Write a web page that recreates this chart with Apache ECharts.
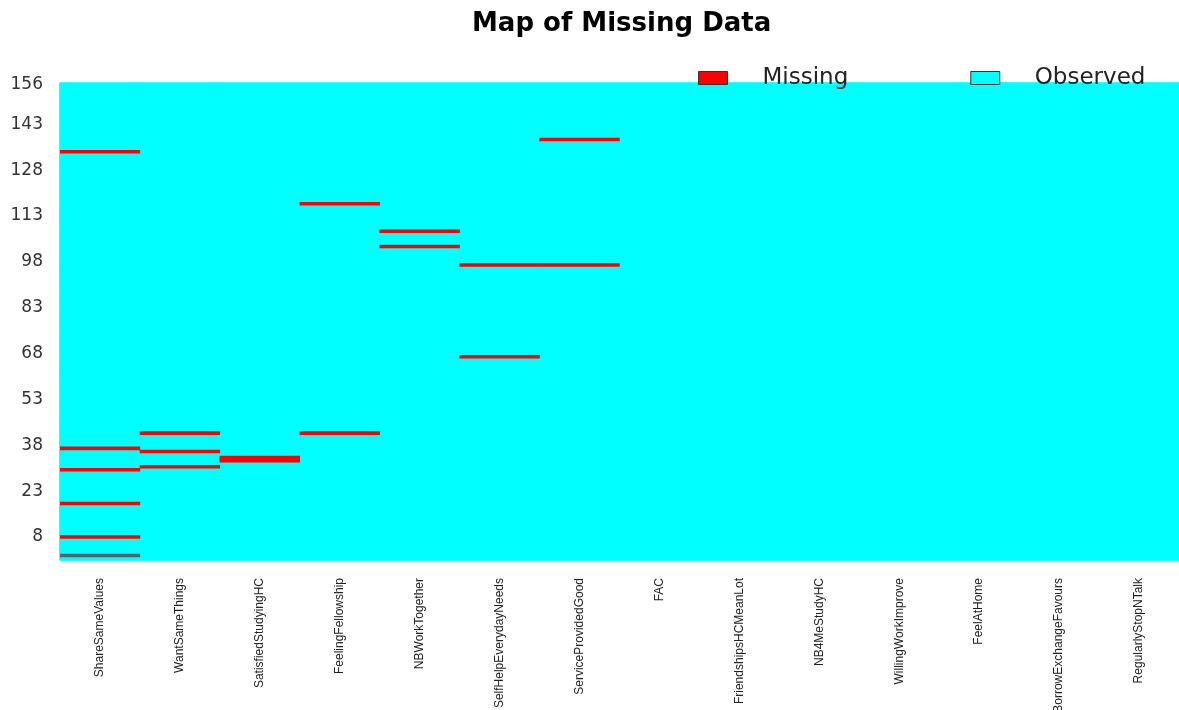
<!DOCTYPE html>
<html>
<head>
<meta charset="utf-8">
<title>Map of Missing Data</title>
<script src="https://cdn.jsdelivr.net/npm/echarts@6/dist/echarts.min.js"></script>
<style>
  html, body { margin: 0; padding: 0; background: #fff; }
  #main { width: 1179px; height: 710px; }
</style>
</head>
<body>
<div id="main"></div>
<script>
// variables shown as columns
const variables = [
    'ShareSameValues', 'WantSameThings', 'SatisfiedStudyingHC', 'FeelingFellowship',
    'NBWorkTogether', 'SelfHelpEverydayNeeds', 'ServiceProvidedGood', 'FAC',
    'FriendshipsHCMeanLot', 'NB4MeStudyHC', 'WillingWorkImprove', 'FeelAtHome',
    'BorrowExchangeFavours', 'RegularlyStopNTalk'
];
const rowCount = 156;
const yTickLabels = [8, 23, 38, 53, 68, 83, 98, 113, 128, 143, 156];

// rows (1-based) where each variable is missing
const missingRows = [
    [8, 19, 30, 37, 134],
    [31, 36, 42],
    [33, 34],
    [42, 117],
    [103, 108],
    [67, 97],
    [97, 138],
    [], [], [], [], [], [], []
];
// cell drawn in a darker shade in the original: [variable index, row]
const shadedCells = [[0, 2]];

const rows = [];
for (let r = 1; r <= rowCount; r++) rows.push(String(r));

const observed = [];
const missing = [];
variables.forEach((v, c) => {
    for (let r = 1; r <= rowCount; r++) {
        const shaded = shadedCells.some(s => s[0] === c && s[1] === r);
        if (shaded) {
            missing.push({value: [c, r - 1, 1], itemStyle: {color: '#5a6068'}});
        } else if (missingRows[c].indexOf(r) >= 0) {
            missing.push([c, r - 1, 1]);
        } else {
            observed.push([c, r - 1, 0]);
        }
    }
});

const myChart = echarts.init(document.getElementById('main'));
const option = {
    animation: false,
    title: {
        text: 'Map of Missing Data',
        left: 472,
        top: 11,
        padding: 0,
        textStyle: {
            fontFamily: 'DejaVu Sans',
            fontWeight: 'bold',
            fontSize: 26,
            color: '#000'
        }
    },
    legend: {
        data: ['Missing', 'Observed'],
        left: 698,
        top: 66,
        padding: 0,
        icon: 'rect',
        itemWidth: 29,
        itemHeight: 13,
        itemGap: 122,
        itemStyle: {borderColor: '#333', borderWidth: 1},
        textStyle: {
            fontFamily: 'DejaVu Sans',
            fontSize: 23,
            color: '#222',
            lineHeight: 24,
            padding: [0, 0, 0, 30]
        }
    },
    grid: {left: 60, right: 0, top: 83, bottom: 150, containLabel: false, outerBoundsMode: 'none'},
    xAxis: {
        type: 'category',
        data: variables,
        axisLine: {show: false},
        axisTick: {show: false},
        splitLine: {show: false},
        axisLabel: {
            interval: 0,
            rotate: 90,
            margin: 18,
            fontFamily: 'Liberation Sans',
            fontSize: 12,
            color: '#222'
        }
    },
    yAxis: {
        type: 'category',
        data: rows,
        axisLine: {show: false},
        axisTick: {show: false},
        splitLine: {show: false},
        axisLabel: {
            interval: (idx, value) => yTickLabels.indexOf(Number(value)) >= 0,
            margin: 17,
            padding: [7, 0, 0, 0],
            fontFamily: 'DejaVu Sans',
            fontSize: 17,
            color: '#333'
        }
    },
    series: [
        {
            name: 'Observed',
            type: 'heatmap',
            data: observed,
            itemStyle: {color: '#00ffff', borderColor: '#00ffff', borderWidth: 1},
            emphasis: {disabled: true}
        },
        {
            name: 'Missing',
            type: 'heatmap',
            data: missing,
            itemStyle: {color: '#ff0000'},
            emphasis: {disabled: true}
        }
    ]
};
myChart.setOption(option);
</script>
</body>
</html>
